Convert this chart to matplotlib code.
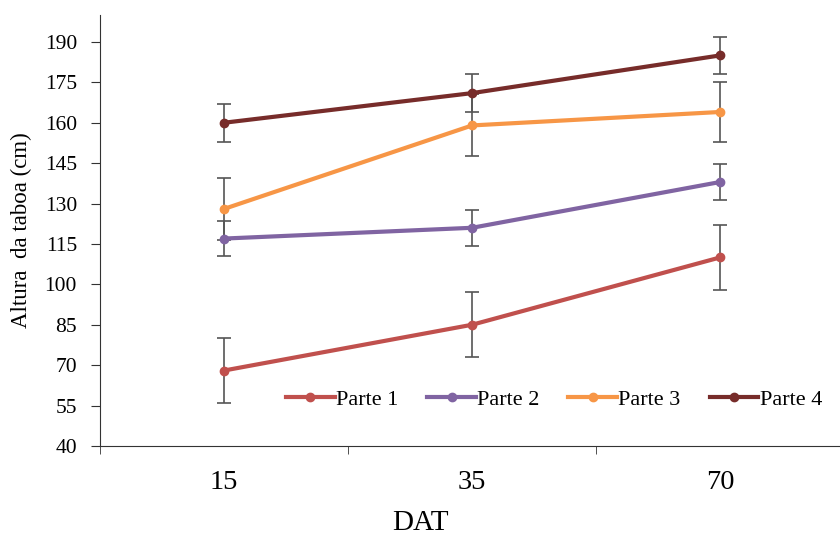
import matplotlib.pyplot as plt
from matplotlib.lines import Line2D

dat = ['15', '35', '70']
parte1 = [68, 85, 110]
parte2 = [117, 121, 138]
parte3 = [128, 159, 164]
parte4 = [160, 171, 185]
err1 = [12, 12, 12]
err2 = [6.5, 6.7, 6.7]
err3 = [11.5, 11.5, 11.3]
err4 = [7, 7, 7]

names = ['Parte 1', 'Parte 2', 'Parte 3', 'Parte 4']
series = [parte1, parte2, parte3, parte4]
errors = [err1, err2, err3, err4]
colors = ['#C0504D', '#8064A2', '#F79646', '#772C2A']

plt.rcParams['font.family'] = ['Liberation Serif', 'DejaVu Serif']

fig = plt.figure(figsize=(8.4, 5.36), dpi=100)
ax = fig.add_axes([0.119, 0.168, 0.886, 0.804])

x = list(range(len(dat)))
handles = []
for name, vals, errs, c in zip(names, series, errors, colors):
    ax.errorbar(x, vals, yerr=errs, color=c, lw=3, marker='o', ms=6,
                ecolor='#555555', elinewidth=1.2, capsize=5, capthick=1.2)
    handles.append(Line2D([], [], color=c, lw=3, marker='o', ms=6, label=name))

ax.set_xlim(-0.5, 2.5)
ax.set_ylim(40, 200)
ax.set_yticks(range(40, 191, 15))
ax.set_xticks(x)
ax.set_xticklabels(dat, fontsize=20.5)
ax.set_xticks([-0.5, 0.5, 1.5, 2.5], minor=True)
ax.tick_params(axis='x', which='major', length=0, pad=17)
ax.tick_params(axis='x', which='minor', length=6, direction='out', color='#333333')
ax.tick_params(axis='y', labelsize=15.5, length=6.5, direction='out', color='#333333', pad=10)
for s in ['top', 'right']:
    ax.spines[s].set_visible(False)
for s in ['left', 'bottom']:
    ax.spines[s].set_color('#333333')

ax.set_ylabel('Altura  da taboa (cm)', fontsize=16.5)
ax.yaxis.set_label_coords(-0.091, 0.5)
ax.set_xlabel('DAT', fontsize=21)
ax.xaxis.set_label_coords(0.431, -0.148)

ax.legend(handles=handles, loc='center right', bbox_to_anchor=(0.988, 0.107), ncol=4,
          frameon=False, fontsize=16, handlelength=2.2, handletextpad=0.05,
          columnspacing=1.3, borderaxespad=0.2)

fig.savefig('out.png', dpi=100)
